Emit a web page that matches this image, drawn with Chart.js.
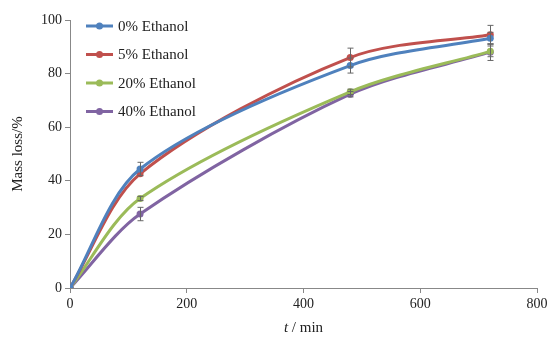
<!DOCTYPE html>
<html>
<head>
<meta charset="utf-8">
<script src="https://cdn.jsdelivr.net/npm/chart.js@4.4.1/dist/chart.umd.min.js"></script>
<style>
  html, body { margin: 0; padding: 0; background: #fff; }
  #wrap { width: 552px; height: 337px; }
</style>
</head>
<body>
<div id="wrap"><canvas id="myChart"></canvas></div>
<script>
// sampling times (min)
const times = [0, 120, 480, 720];
const seriesNames = ['0% Ethanol', '5% Ethanol', '20% Ethanol', '40% Ethanol'];
const eth0 = [0, 44.4, 83.0, 93.2];
const eth5 = [0, 42.6, 86.0, 94.5];
const eth20 = [0, 33.4, 73.2, 88.3];
const eth40 = [0, 27.6, 72.3, 88.0];
// error bar half-widths
const err0 = [0, 2.5, 2.8, 2.2];
const err5 = [0, 0, 3.5, 3.5];
const err20 = [0, 0.8, 1.0, 2.0];
const err40 = [0, 2.5, 1.0, 3.1];
const xTicks = [0, 200, 400, 600, 800];
const yTicks = [0, 20, 40, 60, 80, 100];

const colors = ['#4f81bd', '#c0504d', '#9bbb59', '#8064a2'];
const values = [eth0, eth5, eth20, eth40];
const errors = [err0, err5, err20, err40];
const serif = "'Liberation Serif', 'Times New Roman', serif";

const datasets = seriesNames.map((name, i) => ({
    label: name,
    data: times.map((t, j) => ({ x: t, y: values[i][j] })),
    borderColor: colors[i],
    backgroundColor: colors[i],
    borderWidth: 3,
    pointRadius: 3.5,
    pointBorderWidth: 0,
    pointHoverRadius: 3.5,
    tension: 0.3,
    err: errors[i]
}));

// draw error bars through the scales
const errorBars = {
    id: 'errorBars',
    afterDatasetsDraw(chart) {
        const c = chart.ctx;
        const xs = chart.scales.x, ys = chart.scales.y;
        c.save();
        c.strokeStyle = '#666';
        c.lineWidth = 1;
        chart.data.datasets.forEach(ds => {
            ds.data.forEach((p, j) => {
                const e = ds.err[j];
                if (!e) return;
                const px = Math.round(xs.getPixelForValue(p.x)) + 0.5;
                const top = ys.getPixelForValue(p.y + e);
                const bot = ys.getPixelForValue(p.y - e);
                c.beginPath();
                c.moveTo(px, top); c.lineTo(px, bot);
                c.moveTo(px - 3, top); c.lineTo(px + 3, top);
                c.moveTo(px - 3, bot); c.lineTo(px + 3, bot);
                c.stroke();
            });
        });
        c.restore();
    }
};

// legend inside plot + x title with italic t
const extras = {
    id: 'extras',
    afterDraw(chart) {
        const c = chart.ctx;
        c.save();
        c.font = '15px ' + serif;
        c.textBaseline = 'middle';
        c.textAlign = 'left';
        const rows = [26, 54.5, 83, 111.5];
        chart.data.datasets.forEach((ds, i) => {
            const y = rows[i];
            c.strokeStyle = ds.borderColor;
            c.lineWidth = 3;
            c.beginPath();
            c.moveTo(86, y); c.lineTo(113, y);
            c.stroke();
            c.fillStyle = ds.borderColor;
            c.beginPath();
            c.arc(99.5, y, 3.5, 0, Math.PI * 2);
            c.fill();
            c.fillStyle = '#222';
            c.fillText(ds.label, 118, y + 1);
        });
        // x axis title
        const cx = (chart.chartArea.left + chart.chartArea.right) / 2;
        c.fillStyle = '#222';
        c.font = 'italic 15px ' + serif;
        const tW = c.measureText('t').width;
        c.font = '15px ' + serif;
        const rest = ' / min';
        const rW = c.measureText(rest).width;
        let x0 = cx - (tW + rW) / 2;
        c.font = 'italic 15px ' + serif;
        c.fillText('t', x0, 328);
        c.font = '15px ' + serif;
        c.fillText(rest, x0 + tW, 328);
        c.restore();
    }
};

const ctx = document.getElementById('myChart').getContext('2d');
const myChart = new Chart(ctx, {
    type: 'line',
    data: { datasets: datasets },
    plugins: [errorBars, extras],
    options: {
        responsive: true,
        maintainAspectRatio: false,
        animation: false,
        layout: { padding: { left: 0, right: 15, top: 20, bottom: 0 } },
        plugins: {
            legend: { display: false },
            tooltip: { enabled: false }
        },
        scales: {
            x: {
                type: 'linear',
                min: 0,
                max: 800,
                afterBuildTicks: s => { s.ticks = xTicks.map(v => ({ value: v })); },
                afterFit: s => { s.height = 49; },
                grid: { drawOnChartArea: false, color: '#888', tickLength: 5 },
                border: { color: '#888' },
                ticks: { color: '#222', font: { family: serif, size: 14 }, padding: 3 },
            },
            y: {
                min: 0,
                max: 100,
                afterBuildTicks: s => { s.ticks = yTicks.map(v => ({ value: v })); },
                afterFit: s => { s.width = 70; },
                grid: { drawOnChartArea: false, color: '#888', tickLength: 5 },
                border: { color: '#888' },
                ticks: { color: '#222', font: { family: serif, size: 14 }, padding: 3 },
                title: {
                    display: true,
                    text: 'Mass loss/%',
                    color: '#222',
                    font: { family: serif, size: 15 },
                    padding: { top: 9, bottom: 0 }
                }
            }
        }
    }
});
</script>
</body>
</html>
